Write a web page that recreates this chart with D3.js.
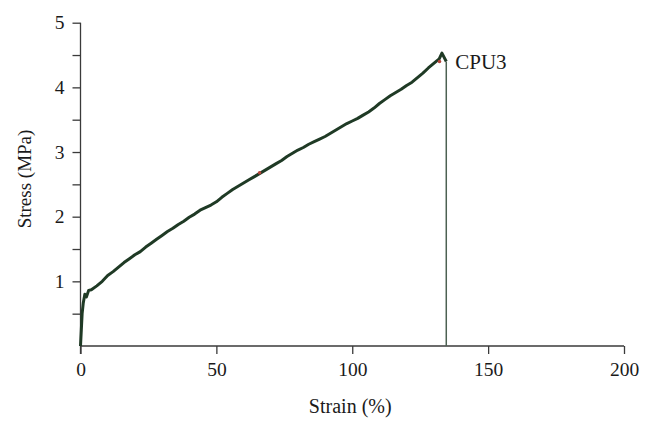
<!DOCTYPE html>
<html>
<head>
<meta charset="utf-8">
<script src="https://cdn.jsdelivr.net/npm/d3@7"></script>
<style>
  body { margin: 0; background: #fff; }
  svg text { font-family: "Liberation Serif", "Times New Roman", serif; fill: #1a1a1a; }
</style>
</head>
<body>
<div id="chart"></div>
<script>
// strain (%) and stress (MPa)
const strain = [0, 0.3, 0.6, 1, 1.6, 2.2, 3,
  4, 6, 8, 10, 12, 14, 16, 18, 20, 22, 24, 26, 28, 30, 32, 34, 36, 38, 40,
  42, 44, 46, 48, 50, 52, 54, 56, 58, 60, 62, 64, 66, 68, 70, 72, 74, 76, 78, 80,
  82, 84, 86, 88, 90, 92, 94, 96, 98, 100, 102, 104, 106, 108, 110, 112, 114, 116, 118, 120,
  122, 124, 126, 128, 130, 132, 133, 134.6];
const stress = [0, 0.25, 0.5, 0.66, 0.8, 0.76, 0.86,
  0.87, 0.93, 1.00, 1.09, 1.15, 1.22, 1.29, 1.35, 1.41, 1.46, 1.53, 1.59, 1.65, 1.71, 1.77, 1.82, 1.88, 1.93, 1.99,
  2.04, 2.10, 2.14, 2.18, 2.23, 2.30, 2.36, 2.42, 2.47, 2.52, 2.57, 2.62, 2.67, 2.72, 2.77, 2.82, 2.87, 2.93, 2.98, 3.03,
  3.07, 3.12, 3.16, 3.20, 3.24, 3.29, 3.34, 3.39, 3.44, 3.48, 3.52, 3.57, 3.62, 3.68, 3.75, 3.81, 3.87, 3.92, 3.97, 4.03,
  4.08, 4.15, 4.22, 4.30, 4.37, 4.44, 4.53, 4.40];
// small red markers on the curve
const markStrain = [65.9, 132.1];
const markStress = [2.68, 4.40];
const breakStrain = 134.6;
const label = "CPU3";

const xTicks = [0, 50, 100, 150, 200];
const yTicks = [0.5, 1, 1.5, 2, 2.5, 3, 3.5, 4, 4.5, 5];
const yLabels = [1, 2, 3, 4, 5];

const width = 651, height = 429;
const svg = d3.select("#chart").append("svg")
  .attr("width", width).attr("height", height);

const x = d3.scaleLinear().domain([0, 200]).range([80.5, 624]);
const y = d3.scaleLinear().domain([0, 5]).range([346, 22.7]);

const axisColor = "#3a3a3a";

// x axis
const xAxis = svg.append("g")
  .attr("transform", `translate(0,${y(0)})`)
  .call(d3.axisBottom(x).tickValues(xTicks).tickSize(8).tickPadding(8).tickFormat(d3.format("d")));
xAxis.select(".domain").attr("stroke", axisColor).attr("stroke-width", 1.3)
  .attr("d", `M${x(0)},0H${x(200)}`);
xAxis.selectAll(".tick line").attr("stroke", axisColor).attr("stroke-width", 1.3);
xAxis.selectAll(".tick text").style("font-size", "19.5px").attr("fill", "#1a1a1a")
  .style("font-family", "Liberation Serif, serif");

// y axis
const yAxis = svg.append("g")
  .attr("transform", `translate(${x(0)},0)`)
  .call(d3.axisLeft(y).tickValues(yTicks).tickSize(8).tickPadding(8)
    .tickFormat(d => yLabels.includes(d) ? d3.format("d")(d) : ""));
yAxis.select(".domain").attr("stroke", axisColor).attr("stroke-width", 1.3)
  .attr("d", `M0,${y(0) + 8}V${y(5)}`);
yAxis.selectAll(".tick line").attr("stroke", axisColor).attr("stroke-width", 1.3);
yAxis.selectAll(".tick text").style("font-size", "19.5px").attr("fill", "#1a1a1a")
  .style("font-family", "Liberation Serif, serif");

// axis titles
svg.append("text")
  .attr("x", (x(0) + x(200)) / 2 - 2)
  .attr("y", 413)
  .attr("text-anchor", "middle")
  .style("font-size", "20px")
  .text("Strain (%)");

svg.append("text")
  .attr("transform", `translate(31,179) rotate(-90)`)
  .attr("text-anchor", "middle")
  .style("font-size", "19px")
  .text("Stress (MPa)");

// curve
const points = strain.map((s, i) => [s, stress[i]]);
const line = d3.line().x(d => x(d[0])).y(d => y(d[1]));

svg.append("path")
  .datum(points)
  .attr("d", line)
  .attr("fill", "none")
  .attr("stroke", "#1f3a25")
  .attr("stroke-width", 3)
  .attr("stroke-linejoin", "round");

// break drop line
svg.append("line")
  .attr("x1", x(breakStrain)).attr("x2", x(breakStrain))
  .attr("y1", y(stress[stress.length - 1])).attr("y2", y(0))
  .attr("stroke", "#4d6152")
  .attr("stroke-width", 1.5);

// red markers
svg.selectAll(".mark")
  .data(markStrain.map((s, i) => [s, markStress[i]]))
  .enter().append("circle")
  .attr("class", "mark")
  .attr("cx", d => x(d[0]))
  .attr("cy", d => y(d[1]))
  .attr("r", 1.8)
  .attr("fill", "#b2453a");

// series label
svg.append("text")
  .attr("x", x(breakStrain) + 9)
  .attr("y", 69)
  .style("font-size", "21px")
  .text(label);
</script>
</body>
</html>
